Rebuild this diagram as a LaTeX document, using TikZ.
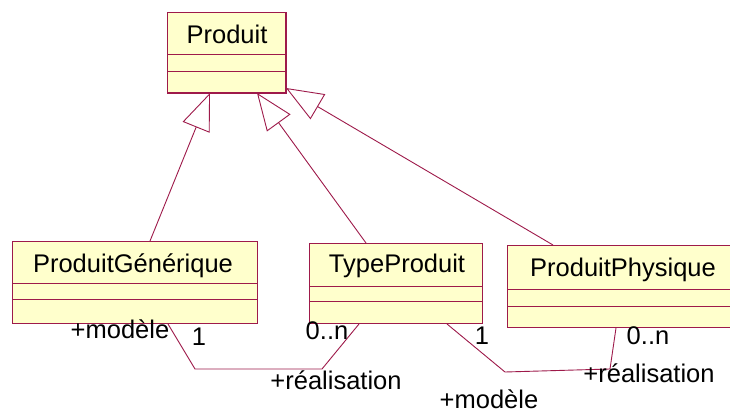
\documentclass[tikz,border=0pt]{standalone}
\usepackage{fontspec}
\setmainfont{Liberation Sans}
\usetikzlibrary{arrows.meta, calc, positioning}
\definecolor{roseline}{HTML}{9E1A4A}
\definecolor{rosefill}{HTML}{FFFFCC}
\tikzset{
  cls/.style={draw=roseline, fill=rosefill, line width=1pt, anchor=north west, inner sep=0pt},
  clsname/.style={anchor=base, inner sep=0pt, font=\fontsize{25.5}{30}\selectfont},
  sep/.style={draw=roseline, line width=0.8pt},
  gen/.style={-{Triangle[open, length=37pt, width=29pt]}, draw=roseline, line width=0.9pt},
  assoc/.style={draw=roseline, line width=0.9pt},
  role/.style={anchor=base, inner sep=0pt, font=\fontsize{25.5}{30}\selectfont},
}
\begin{document}
\begin{tikzpicture}[x=1pt, y=-1pt]
  \fill[white] (0,0) rectangle (730,412);
  \useasboundingbox (0,0) rectangle (730,412);
  % classes
  \node[cls, minimum width=118pt, minimum height=80pt] (prod) at (167,12) {};
  \draw[roseline, line width=2pt] (prod.south west) -- (prod.south east) -- (prod.north east);
  \draw[sep] ([yshift=-42pt]prod.north west) -- ([yshift=-42pt]prod.north east);
  \draw[sep] ([yshift=-59pt]prod.north west) -- ([yshift=-59pt]prod.north east);
  \node[clsname] (prodname) at (227,44) {Produit};

  \node[cls, minimum width=245pt, minimum height=82pt] (pg) at (12,241) {};
  \draw[sep] ([yshift=-42pt]pg.north west) -- ([yshift=-42pt]pg.north east);
  \draw[sep] ([yshift=-58pt]pg.north west) -- ([yshift=-58pt]pg.north east);
  \node[clsname] (pgname) at (133,272) {ProduitGénérique};

  \node[cls, minimum width=173pt, minimum height=80pt] (tp) at (309,243) {};
  \draw[sep] ([yshift=-43pt]tp.north west) -- ([yshift=-43pt]tp.north east);
  \draw[sep] ([yshift=-58pt]tp.north west) -- ([yshift=-58pt]tp.north east);
  \node[clsname] (tpname) at (397,272) {TypeProduit};

  \node[cls, minimum width=224pt, minimum height=82pt] (pp) at (507,245) {};
  \draw[sep] ([yshift=-44pt]pp.north west) -- ([yshift=-44pt]pp.north east);
  \draw[sep] ([yshift=-61pt]pp.north west) -- ([yshift=-61pt]pp.north east);
  \node[clsname] (ppname) at (623,276) {ProduitPhysique};

  % generalisations
  \draw[gen] ([xshift=138pt]pg.north west) -- ([xshift=43pt]prod.south west);
  \draw[gen] ([xshift=57pt]tp.north west) -- ([xshift=90pt]prod.south west);
  \draw[gen] ([xshift=46pt]pp.north west) -- ([yshift=5pt]prod.south east);

  % associations
  \draw[assoc] ([xshift=156pt]pg.south west) -- (195,369) -- (322,369) -- ([xshift=50pt]tp.south west);
  \draw[assoc] ([xshift=138pt]tp.south west) -- (505,372) -- (610,369) -- ([xshift=109pt]pp.south west);

  % roles and multiplicities
  \node[role] (r1) at (120,338) {+modèle};
  \node[role] (m1) at (199,345) {1};
  \node[role] (m2) at (327,339) {0..n};
  \node[role] (r2) at (336,389) {+réalisation};
  \node[role] (m3) at (482,344) {1};
  \node[role] (r3) at (489,408) {+modèle};
  \node[role] (m4) at (648,344) {0..n};
  \node[role] (r4) at (649,382) {+réalisation};
\end{tikzpicture}
\end{document}
